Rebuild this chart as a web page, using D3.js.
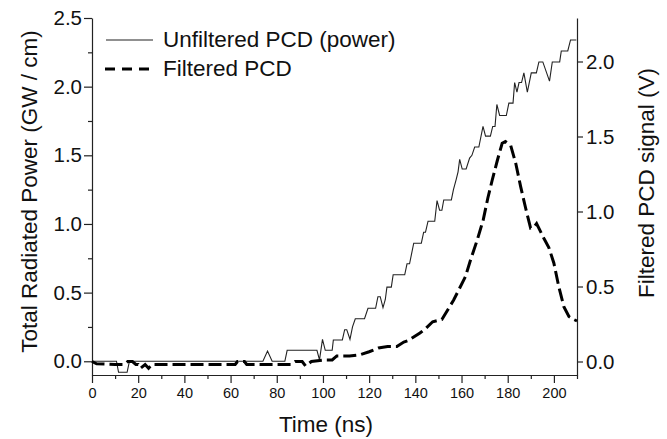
<!DOCTYPE html>
<html lang="en">
<head>
<meta charset="UTF-8">
<title>Radiated power and PCD signal</title>
<script src="https://d3js.org/d3.v7.min.js"></script>
<style>
    body { margin: 0; padding: 0; background: #fff; }
    svg { display: block; font-family: "Liberation Sans", Arial, sans-serif; }
    .axis path, .axis line { stroke: #222; stroke-width: 1.2; }
    .axis text { fill: #111; font-family: "Liberation Sans", Arial, sans-serif; }
</style>
</head>
<body>
<svg width="667" height="439"></svg>
<script>
    const width = 667, height = 439;
    const margin = { left: 92, right: 90, top: 18, bottom: 64 };

    // unfiltered PCD (power), left axis, GW / cm
    const powerTime = [0, 10.6, 11.5, 15.2, 16.2, 74, 76, 78, 83.5, 84.5, 97.4, 98.5, 99.8, 101, 104, 104.5, 108.4,
        109.4, 110.3, 111.7, 112.8, 114, 118, 119.5, 122.8, 123.8, 124.8, 126, 127, 127.7, 129.6, 130.4, 135.4,
        136.4, 137.5, 139.3, 142.6, 143.6, 144.4, 145.5, 148.4, 149.4, 150.5, 151.5, 152.3, 155.6, 156.5, 157.7,
        158.5, 159.2, 160.3, 162, 163.5, 164.5, 165.7, 167.5, 169.3, 170.4, 172.5, 173.5, 174.5, 175.3, 176.5,
        179.4, 180.5, 182.3, 183, 184, 184.9, 186, 187, 188.5, 190.2, 192.4, 193.5, 195.2, 198.1, 199.3, 202.5,
        203.2, 206, 207.2, 209.7];
    const powerValue = [0, 0, -0.08, -0.08, 0, 0, 0.075, 0, 0, 0.08, 0.08, 0.01, 0.16, 0.08, 0.08, 0.155, 0.155,
        0.23, 0.23, 0.16, 0.25, 0.31, 0.31, 0.386, 0.386, 0.47, 0.47, 0.39, 0.45, 0.54, 0.54, 0.63, 0.63,
        0.71, 0.71, 0.86, 0.86, 0.94, 0.94, 1.02, 1.02, 1.17, 1.10, 1.10, 1.175, 1.175, 1.25, 1.325,
        1.38, 1.47, 1.40, 1.40, 1.48, 1.50, 1.56, 1.56, 1.71, 1.64, 1.64, 1.71, 1.71, 1.87, 1.79,
        1.79, 1.88, 1.88, 2.03, 1.96, 2.03, 2.03, 2.10, 1.96, 2.10, 2.10, 2.18, 2.18, 2.04, 2.18, 2.18,
        2.26, 2.26, 2.34, 2.34];

    // filtered PCD, right axis, V
    const pcdTime = [0, 2, 10, 14, 15.5, 17.5, 19, 20, 21, 23, 24.5, 26, 62, 63, 66, 67, 86, 88, 91, 92.5, 95,
        100, 104, 106, 111.5, 116, 120, 124, 128, 132, 135, 137, 142, 144.5, 147.5, 151.5, 156.6, 161.7, 163.9,
        166.8, 169.4, 171.4, 173.3, 175.5, 177.6, 179, 181.3, 183.5, 185.6, 187.8, 189.9, 191.5, 192.5, 195.7,
        197.8, 200, 202.1, 204.3, 206.5, 208.6, 210];
    const pcdValue = [0, -0.015, -0.02, -0.02, 0, 0, -0.02, -0.02, -0.045, -0.02, -0.045, -0.02, -0.02, 0, 0, -0.02,
        -0.02, 0, 0, -0.03, 0, 0.01, 0.01, 0.037, 0.037, 0.045, 0.065, 0.09, 0.1, 0.1, 0.13, 0.14, 0.19, 0.22,
        0.265, 0.28, 0.41, 0.566, 0.677, 0.81, 0.944, 1.09, 1.21, 1.34, 1.455, 1.466, 1.44, 1.32, 1.166, 1.02,
        0.89, 0.9, 0.92, 0.82, 0.76, 0.655, 0.5, 0.366, 0.3, 0.28, 0.27];

    const xTicks = [0, 20, 40, 60, 80, 100, 120, 140, 160, 180, 200];
    const leftTicks = [0, 0.5, 1.0, 1.5, 2.0, 2.5];
    const rightTicks = [0, 0.5, 1.0, 1.5, 2.0];

    const svg = d3.select("svg");

    const x = d3.scaleLinear().domain([0, 210]).range([margin.left, width - margin.right]);
    const yL = d3.scaleLinear().domain([-0.1, 2.5]).range([height - margin.bottom, margin.top]);
    const yR = d3.scaleLinear().domain([-0.09, 2.29]).range([height - margin.bottom, margin.top]);

    const fmt = d3.format(".1f");

    // minor ticks first
    svg.append("g").attr("class", "axis")
        .attr("transform", `translate(0,${height - margin.bottom})`)
        .call(d3.axisBottom(x).tickValues(d3.range(10, 211, 20)).tickSize(4).tickFormat(""))
        .call(g => g.select(".domain").remove());
    svg.append("g").attr("class", "axis")
        .attr("transform", `translate(${margin.left},0)`)
        .call(d3.axisLeft(yL).tickValues(d3.range(0.25, 2.5, 0.5)).tickSize(4).tickFormat(""))
        .call(g => g.select(".domain").remove());

    // main axes
    svg.append("g").attr("class", "axis")
        .attr("transform", `translate(0,${height - margin.bottom})`)
        .call(d3.axisBottom(x).tickValues(xTicks).tickSize(8).tickSizeOuter(0).tickPadding(5))
        .call(g => g.selectAll("text").attr("font-size", 14.5));

    svg.append("g").attr("class", "axis")
        .attr("transform", `translate(${margin.left},0)`)
        .call(d3.axisLeft(yL).tickValues(leftTicks).tickFormat(fmt).tickSize(8).tickSizeOuter(0).tickPadding(2))
        .call(g => g.selectAll("text").attr("font-size", 20.5));

    svg.append("g").attr("class", "axis")
        .attr("transform", `translate(${width - margin.right},0)`)
        .call(d3.axisRight(yR).tickValues(rightTicks).tickFormat(fmt).tickSize(6).tickSizeOuter(0).tickPadding(3))
        .call(g => g.selectAll("text").attr("font-size", 20.5));

    // curves
    const powerLine = d3.line()
        .x((d, i) => x(powerTime[i]))
        .y(d => yL(d));
    svg.append("path")
        .attr("d", powerLine(powerValue))
        .attr("fill", "none")
        .attr("stroke", "#222")
        .attr("stroke-width", 1.1);

    const pcdLine = d3.line()
        .x((d, i) => x(pcdTime[i]))
        .y(d => yR(d));
    svg.append("path")
        .attr("d", pcdLine(pcdValue))
        .attr("fill", "none")
        .attr("stroke", "#000")
        .attr("stroke-width", 3)
        .attr("stroke-dasharray", "13,5");

    // legend
    const legend = svg.append("g");
    legend.append("line")
        .attr("x1", 106).attr("x2", 153).attr("y1", 40).attr("y2", 40)
        .attr("stroke", "#222").attr("stroke-width", 1.1);
    legend.append("text")
        .attr("x", 163).attr("y", 47)
        .attr("font-size", 22.5).attr("fill", "#111")
        .text("Unfiltered PCD (power)");
    legend.append("line")
        .attr("x1", 105).attr("x2", 155).attr("y1", 69).attr("y2", 69)
        .attr("stroke", "#000").attr("stroke-width", 3)
        .attr("stroke-dasharray", "10,7");
    legend.append("text")
        .attr("x", 163).attr("y", 76)
        .attr("font-size", 22.5).attr("fill", "#111")
        .text("Filtered PCD");

    // axis titles
    svg.append("text")
        .attr("x", 326)
        .attr("y", 431.5)
        .attr("text-anchor", "middle")
        .attr("font-size", 22.5).attr("fill", "#111")
        .text("Time (ns)");

    svg.append("text")
        .attr("transform", "translate(36.5,191.5) rotate(-90)")
        .attr("text-anchor", "middle")
        .attr("font-size", 22.5).attr("fill", "#111")
        .text("Total Radiated Power (GW / cm)");

    svg.append("text")
        .attr("transform", "translate(654,183) rotate(-90)")
        .attr("text-anchor", "middle")
        .attr("font-size", 22.5).attr("fill", "#111")
        .text("Filtered PCD signal (V)");
</script>
</body>
</html>
